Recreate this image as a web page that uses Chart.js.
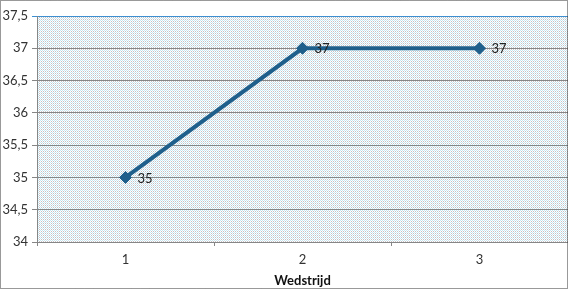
<!DOCTYPE html>
<html>
<head>
<meta charset="utf-8">
<script src="https://cdn.jsdelivr.net/npm/chart.js@4/dist/chart.umd.min.js"></script>
<style>
  html, body { margin: 0; padding: 0; background: #fff; }
  #wrap { width: 568px; height: 289px; position: relative; }
</style>
</head>
<body>
<div id="wrap"><canvas id="chart" width="568" height="289"></canvas></div>
<script>
const matches = ['1', '2', '3'];
const scores = [35, 37, 37];
const yMin = 34;
const yMax = 37.5;
const yStep = 0.5;

// dotted fill of the plot area
function makePattern() {
  const c = document.createElement('canvas');
  c.width = 2; c.height = 2;
  const g = c.getContext('2d');
  g.fillStyle = '#ffffff'; g.fillRect(0, 0, 2, 2);
  g.fillStyle = '#c6e8f3'; g.fillRect(0, 0, 1, 1);
  g.fillStyle = '#c6c2c6'; g.fillRect(1, 1, 1, 1);
  return g.createPattern(c, 'repeat');
}

const plotBg = {
  id: 'plotBg',
  beforeDraw(chart) {
    const { ctx, chartArea: a } = chart;
    ctx.save();
    ctx.fillStyle = makePattern();
    ctx.fillRect(a.left, a.top, a.right - a.left, a.bottom - a.top);
    ctx.restore();
  },
  afterDraw(chart) {
    const ctx = chart.ctx;
    ctx.save();
    ctx.strokeStyle = '#333';
    ctx.lineWidth = 1;
    ctx.setLineDash([1, 1]);
    ctx.strokeRect(0.5, 0.5, chart.width - 1, chart.height - 1);
    ctx.restore();
  }
};

const valueLabels = {
  id: 'valueLabels',
  afterDatasetsDraw(chart) {
    const ctx = chart.ctx;
    const meta = chart.getDatasetMeta(0);
    ctx.save();
    ctx.font = '13px Lato, "Noto Sans", sans-serif';
    ctx.fillStyle = '#222';
    ctx.textBaseline = 'middle';
    meta.data.forEach((pt, i) => {
      ctx.fillText(String(scores[i]), pt.x + 12, pt.y + 1);
    });
    ctx.restore();
  }
};

new Chart(document.getElementById('chart'), {
  type: 'line',
  data: {
    labels: matches,
    datasets: [{
      data: scores,
      borderColor: '#1f5f8b',
      backgroundColor: '#1f5f8b',
      borderWidth: 4,
      pointStyle: 'rectRot',
      pointRadius: 6,
      pointBorderWidth: 1,
      tension: 0
    }]
  },
  options: {
    responsive: false,
    animation: false,
    layout: { autoPadding: false, padding: { top: 16, right: 0, left: 0, bottom: 0 } },
    plugins: { legend: { display: false }, tooltip: { enabled: false } },
    scales: {
      x: {
        offset: true,
        grid: { display: true, drawOnChartArea: false, offset: true, color: '#868686', tickLength: 4 },
        border: { color: '#868686' },
        ticks: { color: '#333', font: { family: 'Lato, "Noto Sans", sans-serif', size: 13 }, padding: 6 },
        title: { display: true, text: 'Wedstrijd', color: '#111', padding: 0,
          font: { family: 'Lato, "Noto Sans", sans-serif', size: 13, weight: 'bold' } },
        afterFit(scale) { scale.height = 47; }
      },
      y: {
        min: yMin,
        max: yMax,
        ticks: {
          stepSize: yStep,
          color: '#333',
          padding: 4,
          font: { family: 'Lato, "Noto Sans", sans-serif', size: 13 },
          callback: v => String(v).replace('.', ',')
        },
        grid: {
          color: ctx => (ctx.tick && ctx.tick.value === yMax ? '#3d8fd1' : '#868686'),
          lineWidth: 1,
          tickLength: 5
        },
        border: { color: '#868686' },
        afterFit(scale) { scale.width = 37; }
      }
    }
  },
  plugins: [plotBg, valueLabels]
});
</script>
</body>
</html>
